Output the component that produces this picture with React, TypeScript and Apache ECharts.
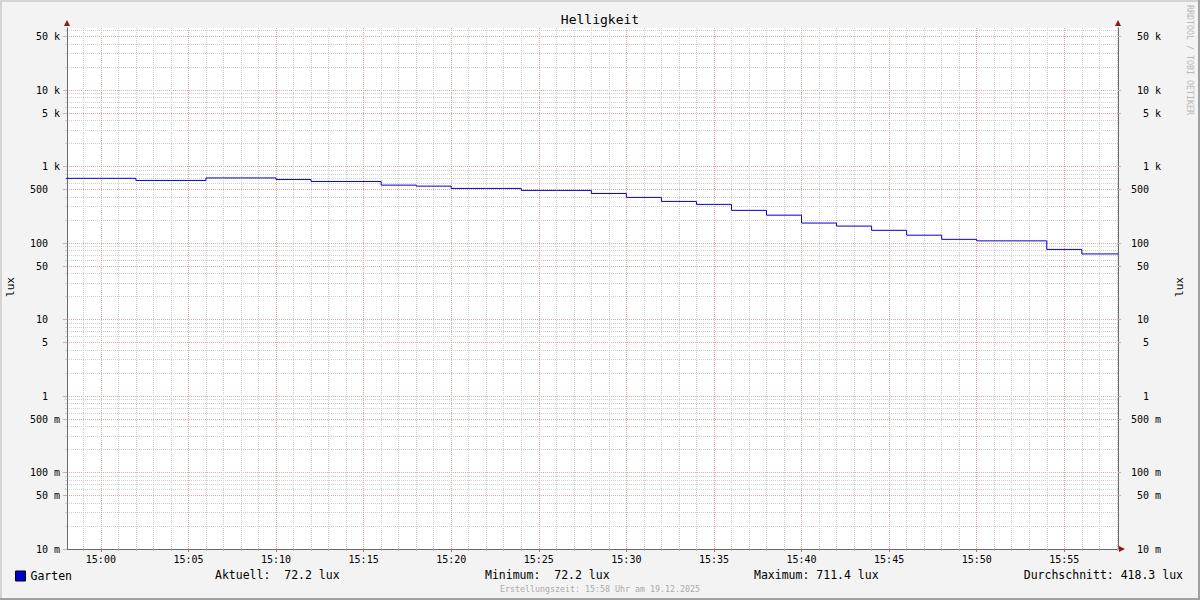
import React, { useEffect, useRef } from "react";
import * as echarts from "echarts";

// ---------- data ----------
const chartTitle = "Helligkeit";
const unitLabel = "lux";
const seriesName = "Garten";

// start of each 2-minute RRD interval (HH:MM)
const intervalStarts = [
  "14:58", "15:00", "15:02", "15:04", "15:06", "15:08", "15:10", "15:12",
  "15:14", "15:16", "15:18", "15:20", "15:22", "15:24", "15:26", "15:28",
  "15:30", "15:32", "15:34", "15:36", "15:38", "15:40", "15:42", "15:44",
  "15:46", "15:48", "15:50", "15:52", "15:54", "15:56",
];
// value (lux) during each interval
const luxValues = [
  703, 703, 660, 660, 711.4, 711.4, 680, 640,
  640, 573, 556, 519, 519, 489, 489, 446,
  396, 351, 321, 268, 232, 183, 167, 147,
  127, 112, 107, 107, 82.7, 72.2,
];

const windowStart = "14:58:04";
const windowEnd = "15:58:04";

const yMin = 0.01;
const yMax = 65000;
const yMajorTicks = [0.01, 0.05, 0.1, 0.5, 1, 5, 10, 50, 100, 500, 1000, 5000, 10000, 50000];
const yDecades = [0.01, 0.1, 1, 10, 100, 1000, 10000];
const yMinorMultipliers = [2, 3, 4, 6, 7, 8, 9];

const xMajorTicks = [
  "15:00", "15:05", "15:10", "15:15", "15:20", "15:25",
  "15:30", "15:35", "15:40", "15:45", "15:50", "15:55",
];

const statLabels = ["Aktuell:", "Minimum:", "Maximum:", "Durchschnitt:"];
const statValues = ["72.2", "72.2", "711.4", "418.3"];
const footerText = "Erstellungszeit: 15:58 Uhr am 19.12.2025";
const watermarkText = "RRDTOOL / TOBI OETIKER";

// ---------- helpers ----------
const toMin = (s: string) => {
  const p = s.split(":").map(Number);
  return p[0] * 60 + p[1] + (p[2] || 0) / 60;
};
const NB = "\u00a0";
const fmtTime = (v: number) => {
  const m = Math.round(v);
  return `${Math.floor(m / 60)}:${String(m % 60).padStart(2, "0")}`;
};
const fmtY = (v: number) => {
  if (v >= 1000) return `${Math.round(v / 1000)}${NB}k`;
  if (v >= 1) return `${Math.round(v)}${NB}${NB}`;
  return `${Math.round(v * 1000)}${NB}m`;
};

const MONO = "'DejaVu Sans Mono', monospace";

export default function App() {
  const ref = useRef<HTMLDivElement>(null);

  useEffect(() => {
    if (!ref.current) return;
    const chart = echarts.init(ref.current, undefined, { renderer: "svg" });

    const xMin = toMin(windowStart);
    const xMax = toMin(windowEnd);
    const majorMins = xMajorTicks.map(toMin);
    const minorMins: number[] = [];
    for (let m = Math.ceil(xMin); m <= Math.floor(xMax); m++) {
      if (!majorMins.includes(m)) minorMins.push(m);
    }
    const yMinor: number[] = [];
    yDecades.forEach((d) =>
      yMinorMultipliers.forEach((k) => {
        const v = parseFloat((d * k).toPrecision(6));
        if (v <= yMax) yMinor.push(v);
      })
    );

    const seriesData = intervalStarts.map((t, i) => [toMin(t), luxValues[i]]);
    seriesData.push([xMax, luxValues[luxValues.length - 1]]);

    const majorColor = "#e8a4a4";
    const minorColor = "#cfcfcf";
    const axisColor = "#6a6a6a";

    const baseY = {
      type: "log",
      logBase: 10,
      min: yMin,
      max: yMax,
    };
    const baseX = {
      type: "value",
      min: xMin,
      max: xMax,
      position: "bottom",
    };

    const statText = statLabels.map((l, i) => `${l}${NB}${statValues[i].padStart(5, NB)}${NB}${unitLabel}`.replace(/ /g, NB));
    const statX = [215, 485, 754, 1183];

    const option: any = {
      animation: false,
      backgroundColor: "#f3f3f3",
      textStyle: { fontFamily: MONO },
      grid: {
        left: 67,
        right: 82,
        top: 28,
        bottom: 51,
        show: true,
        backgroundColor: "#ffffff",
        borderWidth: 0,
        containLabel: false,
        outerBoundsMode: "none",
      },
      legend: {
        left: 15,
        top: 570,
        itemWidth: 10,
        itemHeight: 10,
        padding: 0,
        textStyle: { fontFamily: MONO, fontSize: 11.5, color: "#000" },
        data: [
          {
            name: seriesName,
            icon: "rect",
            itemStyle: { color: "#0000cc", borderColor: "#000", borderWidth: 1 },
          },
        ],
      },
      xAxis: [
        {
          ...baseX,
          axisLine: { show: true, lineStyle: { color: axisColor, width: 1 } },
          axisTick: { show: true, customValues: majorMins, length: 3, lineStyle: { color: "#d06060" } },
          axisLabel: {
            show: true,
            customValues: majorMins,
            formatter: fmtTime,
            fontFamily: MONO,
            fontSize: 10,
            color: "#000",
            margin: 5,
          },
          splitLine: { show: true, lineStyle: { color: majorColor, type: [1, 1], width: 1 } },
        },
        {
          ...baseX,
          axisLine: { show: false },
          axisTick: { show: true, customValues: minorMins, length: 2, lineStyle: { color: "#aaaaaa" } },
          axisLabel: { show: false },
          splitLine: { show: true, lineStyle: { color: minorColor, type: [1, 1], width: 1 } },
        },
      ],
      yAxis: [
        {
          ...baseY,
          position: "left",
          axisLine: { show: true, lineStyle: { color: axisColor, width: 1 } },
          axisTick: { show: true, customValues: yMajorTicks, length: 4, lineStyle: { color: majorColor } },
          axisLabel: {
            show: true,
            customValues: yMajorTicks,
            formatter: fmtY,
            fontFamily: MONO,
            fontSize: 10,
            color: "#000",
            margin: 7,
          },
          splitLine: { show: true, lineStyle: { color: majorColor, type: [1, 1], width: 1 } },
        },
        {
          ...baseY,
          position: "right",
          axisLine: { show: true, lineStyle: { color: axisColor, width: 1 } },
          axisTick: { show: true, customValues: yMajorTicks, length: 3, lineStyle: { color: majorColor } },
          axisLabel: {
            show: true,
            customValues: yMajorTicks,
            formatter: fmtY,
            fontFamily: MONO,
            fontSize: 10,
            color: "#000",
            align: "right",
            margin: 43,
          },
          splitLine: { show: false },
        },
        {
          ...baseY,
          position: "left",
          axisLine: { show: false },
          axisTick: { show: true, customValues: yMinor, length: 2, lineStyle: { color: minorColor } },
          axisLabel: { show: false },
          splitLine: { show: true, lineStyle: { color: minorColor, type: [1, 1], width: 1 } },
        },
      ],
      series: [
        {
          name: seriesName,
          type: "line",
          xAxisIndex: 0,
          yAxisIndex: 0,
          step: "end",
          showSymbol: false,
          symbol: "none",
          color: "#0000cc",
          lineStyle: { color: "#0000cc", width: 1 },
          data: seriesData,
          z: 5,
        },
      ],
      graphic: [
        // frame
        { type: "rect", shape: { x: 0, y: 0, width: 1200, height: 2 }, style: { fill: "#d4d4d4" }, silent: true },
        { type: "rect", shape: { x: 0, y: 0, width: 2, height: 600 }, style: { fill: "#d4d4d4" }, silent: true },
        { type: "rect", shape: { x: 0, y: 598, width: 1200, height: 2 }, style: { fill: "#a0a0a0" }, silent: true },
        { type: "rect", shape: { x: 1198, y: 0, width: 2, height: 600 }, style: { fill: "#a0a0a0" }, silent: true },
        // axis arrows
        { type: "polygon", shape: { points: [[64, 26], [70, 26], [67, 20]] }, style: { fill: "#8b1a1a" }, z: 10 },
        { type: "polygon", shape: { points: [[1115, 26], [1121, 26], [1118, 20]] }, style: { fill: "#8b1a1a" }, z: 10 },
        { type: "polygon", shape: { points: [[1119, 546], [1119, 552], [1125, 549]] }, style: { fill: "#8b1a1a" }, z: 10 },
        // title
        {
          type: "text",
          x: 600,
          y: 19,
          style: { text: chartTitle, font: `13px ${MONO}`, fill: "#000", align: "center", verticalAlign: "middle" },
        },
        // unit labels
        {
          type: "text",
          x: 10,
          y: 287,
          rotation: Math.PI / 2,
          style: { text: unitLabel, font: `11px ${MONO}`, fill: "#000", align: "center", verticalAlign: "middle" },
        },
        {
          type: "text",
          x: 1179,
          y: 287,
          rotation: Math.PI / 2,
          style: { text: unitLabel, font: `11px ${MONO}`, fill: "#000", align: "center", verticalAlign: "middle" },
        },
        // watermark
        {
          type: "text",
          x: 1190,
          y: 60,
          rotation: -Math.PI / 2,
          style: { text: watermarkText, font: `8.3px ${MONO}`, fill: "#b8b8b8", align: "center", verticalAlign: "middle" },
        },
        // stats
        ...statText.map((t, i) => ({
          type: "text",
          x: statX[i],
          y: 575,
          style: {
            text: t,
            font: `11.5px ${MONO}`,
            fill: "#000",
            align: i === 3 ? "right" : "left",
            verticalAlign: "middle",
          },
        })),
        // footer
        {
          type: "text",
          x: 600,
          y: 589,
          style: { text: footerText, font: `8.3px ${MONO}`, fill: "#aaaaaa", align: "center", verticalAlign: "middle" },
        },
      ],
    };

    chart.setOption(option);
    return () => chart.dispose();
  }, []);

  return (
    <div
      ref={ref}
      style={{ position: "fixed", left: 0, top: 0, width: 1200, height: 600 }}
    />
  );
}
